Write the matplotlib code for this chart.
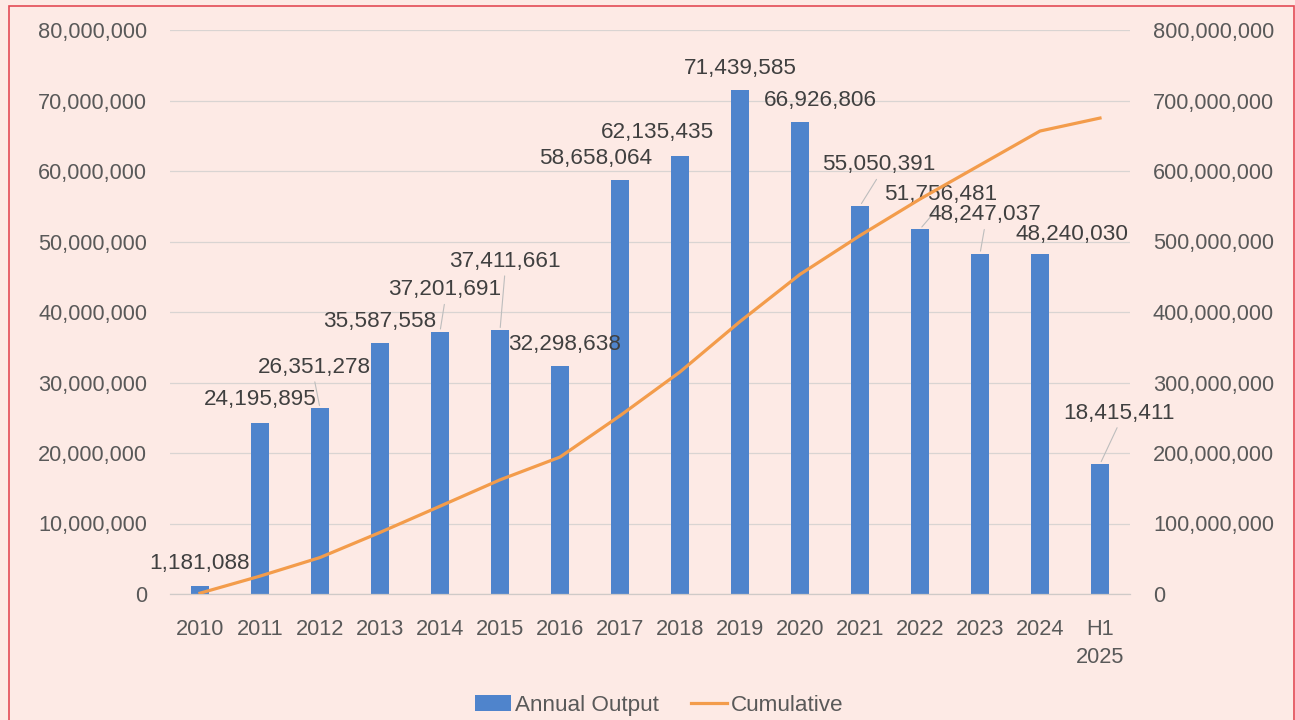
import matplotlib.pyplot as plt
from matplotlib.patches import Rectangle
from matplotlib.ticker import FuncFormatter
import numpy as np

plt.rcParams['font.family'] = ['Liberation Sans', 'DejaVu Sans']

# data
years = ['2010', '2011', '2012', '2013', '2014', '2015', '2016', '2017',
         '2018', '2019', '2020', '2021', '2022', '2023', '2024', 'H1\n2025']
annual = [1181088, 24195895, 26351278, 35587558, 37201691, 37411661,
          32298638, 58658064, 62135435, 71439585, 66926806, 55050391,
          51756481, 48247037, 48240030, 18415411]
cumulative = [1181088, 25376983, 51728261, 87315819, 124517510, 161929171,
              194227809, 252885873, 315021308, 386460893, 453387699,
              508438090, 560194571, 608441608, 656681638, 675097049]

# label offsets (pixels) from bar top, and whether Excel drew a leader line
offsets = [(0, 22), (0, 24), (-6, 41), (0, 22), (5, 42), (5, 69), (5, 22),
           (-24, 22), (-23, 23), (0, 22), (20, 22), (19, 41), (21, 35),
           (5, 39), (32, 19), (19, 51)]
leader = [False, False, True, False, True, True, False, False, False,
          False, False, True, True, True, False, True]

bg = '#fdeae5'
blue = '#4f84cc'
orange = '#f39c4b'
grey = '#595959'
grid = '#d9d4d2'

fig = plt.figure(figsize=(12.95, 7.2), dpi=100, facecolor=bg)
ax = fig.add_axes([170/1295, 126/720, 960/1295, 564/720])
ax.set_facecolor(bg)
ax2 = ax.twinx()

x = np.arange(len(years))
ax.bar(x, annual, width=0.31, color=blue, zorder=2, label='Annual Output')
ax2.plot(x, cumulative, color=orange, lw=2.3, zorder=3, label='Cumulative')

ax.set_xlim(-0.5, len(years) - 0.5)
ax.set_ylim(0, 80000000)
ax2.set_ylim(0, 800000000)
ax.set_yticks(np.arange(0, 80000001, 10000000))
ax2.set_yticks(np.arange(0, 800000001, 100000000))
fmt = FuncFormatter(lambda v, p: f'{int(v):,}')
ax.yaxis.set_major_formatter(fmt)
ax2.yaxis.set_major_formatter(fmt)

ax.grid(axis='y', color=grid, lw=0.9, zorder=0)
ax.set_axisbelow(True)
for a in (ax, ax2):
    for s in a.spines.values():
        s.set_visible(False)
    a.tick_params(length=0, labelsize=15.7, labelcolor=grey)
ax.spines['bottom'].set_visible(True)
ax.spines['bottom'].set_color('#cfcac8')
ax.spines['bottom'].set_linewidth(0.9)

ax.set_xticks(x)
ax.set_xticklabels(years)
ax.tick_params(axis='x', pad=18)
ax.tick_params(axis='y', pad=16.5)
ax2.tick_params(axis='y', pad=16.5)
for t in ax.get_xticklabels():
    t.set_linespacing(1.45)
    t.set_verticalalignment('top')

# data labels
ax2.set_zorder(ax.get_zorder() + 1)
ax2.patch.set_visible(False)
for i, v in enumerate(annual):
    dx, dy = offsets[i]
    props = None
    if leader[i]:
        props = dict(arrowstyle='-', color='#bdbdbd', lw=0.8,
                     shrinkA=1, shrinkB=2, relpos=(0.5, 0.0))
    ax.annotate(f'{v:,}', xy=(x[i], v), xytext=(dx, dy),
                textcoords='offset pixels', ha='center', va='center',
                fontsize=16.2, color='#404040', arrowprops=props, zorder=5)

h1, l1 = ax.get_legend_handles_labels()
h2, l2 = ax2.get_legend_handles_labels()
fig.legend(h1 + h2, l1 + l2, loc='center', bbox_to_anchor=(0.509, 0.02),
           ncol=2, frameon=False, fontsize=16.2, labelcolor=grey,
           handlelength=1.6, handletextpad=0.2, columnspacing=1.4)

fig.patches.append(Rectangle((8.5/1295, -0.02), 1285/1295, 1.02 - 5.5/720,
                             transform=fig.transFigure, fill=False,
                             edgecolor='#e34b55', lw=1.2))

fig.savefig('out.png', dpi=100, facecolor=bg)
